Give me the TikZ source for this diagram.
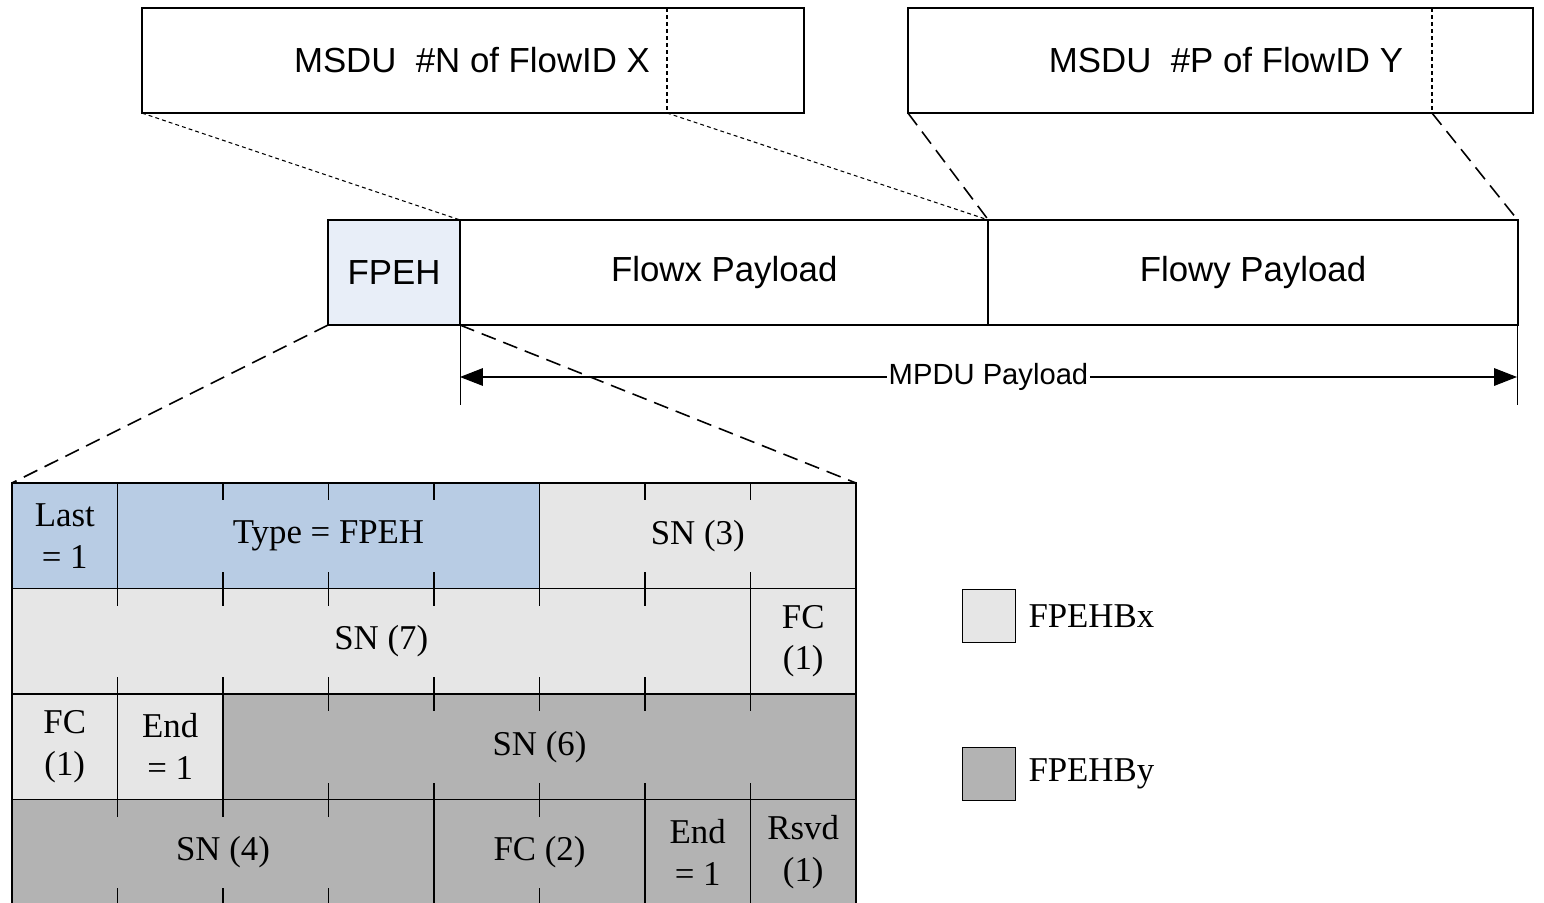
\documentclass[tikz,border=0pt]{standalone}
\usepackage{fontspec}
\setmainfont{Liberation Serif}
\setsansfont{Liberation Sans}
\usetikzlibrary{arrows.meta,positioning}

\definecolor{hdrblue}{HTML}{E8EEF8}
\definecolor{typeblue}{HTML}{B8CCE4}
\definecolor{bxgray}{HTML}{E6E6E6}
\definecolor{bygray}{HTML}{B3B3B3}

\tikzset{
  field/.style={draw, line width=0.55pt, inner sep=0pt, outer sep=0pt, anchor=north west,
    font=\sffamily\fontsize{9.9}{12}\selectfont},
  cell/.style={draw, line width=0.3pt},
  celltext/.style={align=center, font=\fontsize{9.9}{11.9}\selectfont},
  tick/.style={line width=0.3pt},
  zoomline/.style={dash pattern=on 4.3pt off 2.3pt, line width=0.45pt},
  fineline/.style={dash pattern=on 1.1pt off 0.9pt, line width=0.3pt}
}

\begin{document}
\begin{tikzpicture}[x=0.01cm, y=-0.01cm]
    \useasboundingbox (0,0) rectangle (1544,903);

    % MSDUs
    \node[field, minimum width=6.62cm, minimum height=1.05cm] (msdux) at (142,8) {};
    \node[field, minimum width=6.25cm, minimum height=1.05cm] (msduy) at (908,8) {};
    \coordinate (cutx) at (667,113);
    \coordinate (cuty) at (1432,113);
    \draw[fineline] (cutx |- msdux.north) -- (cutx);
    \draw[fineline] (cuty |- msduy.north) -- (cuty);
    \node[font=\sffamily\fontsize{9.9}{12}\selectfont] (labx) at (472,60) {MSDU\ \ \#N of FlowID X};
    \node[font=\sffamily\fontsize{9.9}{12}\selectfont] (laby) at (1226,60) {MSDU\ \ \#P of FlowID Y};

    % MPDU
    \node[field, fill=hdrblue, minimum width=1.32cm, minimum height=1.05cm] (fpeh) at (328,220) {FPEH};
    \node[field, minimum width=5.28cm, minimum height=1.05cm] (flowx) at (fpeh.north east) {Flowx Payload};
    \node[field, minimum width=5.29cm, minimum height=1.05cm] (flowy) at (flowx.north east) {Flowy Payload};

    \draw[fineline] (msdux.south west) -- (fpeh.north east);
    \draw[fineline] (cutx) -- (flowx.north east);
    \draw[zoomline] (msduy.south west) -- (flowx.north east);
    \draw[zoomline] (cuty) -- (flowy.north east);

    % MPDU payload length
    \coordinate (mpl) at (460,377);
    \coordinate (mpr) at (1517,377);
    \draw[tick] (flowx.south west) -- ++(0,80);
    \draw[tick] (flowy.south east) -- ++(0,80);
    \draw[tick, {Triangle[length=6.5pt,width=5pt]}-{Triangle[length=6.5pt,width=5pt]}] (mpl) -- node[fill=white, inner sep=0.4pt, font=\sffamily\fontsize{8.3}{10}\selectfont] (mpdu) {MPDU Payload} (mpr);

    % FPEH blocks
    \coordinate (gnw) at (12,483);
    \coordinate (gne) at (856,483);
    \draw[zoomline] (fpeh.south west) -- (gnw);
    \draw[zoomline] (fpeh.south east) -- (gne);

    \draw[cell, fill=typeblue] (12,483) rectangle node[celltext] (last) {Last\\= 1} (117.5,588.5);
    \draw[cell, fill=typeblue] (117.5,483) rectangle node[celltext] (type) {Type = FPEH} (539.5,588.5);
    \draw[cell, fill=bxgray] (539.5,483) rectangle node[celltext] (snthree) {SN (3)} (856,588.5);

    \draw[cell, fill=bxgray] (12,588.5) rectangle node[celltext] (snseven) {SN (7)} (750.5,694);
    \draw[cell, fill=bxgray] (750.5,588.5) rectangle node[celltext] (fcxa) {FC\\(1)} (856,694);

    \draw[cell, fill=bxgray] (12,694) rectangle node[celltext] (fcxb) {FC\\(1)} (117.5,799.5);
    \draw[cell, fill=bxgray] (117.5,694) rectangle node[celltext] (endx) {End\\= 1} (223,799.5);
    \draw[cell, fill=bygray] (223,694) rectangle node[celltext] (snsix) {SN (6)} (856,799.5);

    \draw[cell, fill=bygray] (12,799.5) rectangle node[celltext] (snfour) {SN (4)} (434,905);
    \draw[cell, fill=bygray] (434,799.5) rectangle node[celltext] (fcy) {FC (2)} (645,905);
    \draw[cell, fill=bygray] (645,799.5) rectangle node[celltext] (endy) {End\\= 1} (750.5,905);
    \draw[cell, fill=bygray] (750.5,799.5) rectangle node[celltext] (rsvd) {Rsvd\\(1)} (856,905);

    % bit ticks
    \foreach \x in {223,328.5,434,645,750.5}
        \draw[tick] (\x,483) -- ++(0,17) (\x,588.5) -- ++(0,-17);
    \foreach \x in {117.5,223,328.5,434,539.5,645}
        \draw[tick] (\x,588.5) -- ++(0,17) (\x,694) -- ++(0,-17);
    \foreach \x in {328.5,434,539.5,645,750.5}
        \draw[tick] (\x,694) -- ++(0,17) (\x,799.5) -- ++(0,-17);
    \foreach \x in {117.5,223,328.5,539.5}
        \draw[tick] (\x,799.5) -- ++(0,17) (\x,905) -- ++(0,-17);

    % legend
    \node[cell, fill=bxgray, minimum size=0.53cm, inner sep=0pt, anchor=north west] (keyx) at (962,589) {};
    \node[celltext, right=0pt of keyx] (keyxtxt) {FPEHBx};
    \node[cell, fill=bygray, minimum size=0.53cm, inner sep=0pt, anchor=north west] (keyy) at (962,747) {};
    \node[celltext, right=0pt of keyy] (keyytxt) {FPEHBy};
\end{tikzpicture}
\end{document}
